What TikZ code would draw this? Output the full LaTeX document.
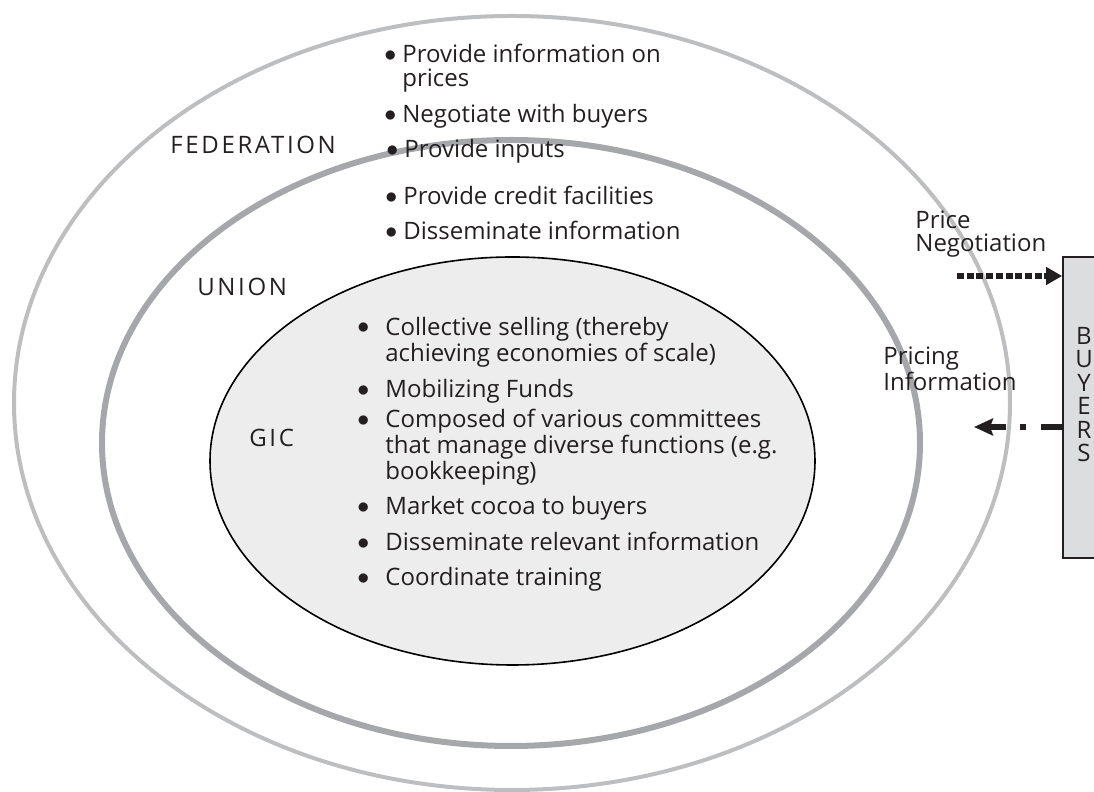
\documentclass[tikz,border=0pt]{standalone}
\usepackage{fontspec}
\setmainfont{Open Sans}
\newfontfamily\tagfont[LetterSpace=11]{Open Sans}
\usepackage{xcolor}
\usepackage{tikz}
\definecolor{fedgrey}{HTML}{BDBEC0}
\definecolor{uniongrey}{HTML}{A6A7AA}
\definecolor{gicfill}{HTML}{EDEDED}
\definecolor{boxfill}{HTML}{DCDDDF}
\definecolor{ink}{HTML}{231F20}
\usetikzlibrary{arrows.meta,positioning}
\newcommand{\blt}[1]{\makebox[#1][l]{\raisebox{0.7pt}{$\bullet$}}}

\begin{document}
\begin{tikzpicture}[x=0.5pt,y=0.5pt,
  fedring/.style={draw=fedgrey,line width=2pt},
  unionring/.style={draw=uniongrey,line width=3pt},
  gicring/.style={draw=black,fill=gicfill,line width=0.8pt},
  tag/.style={font=\tagfont\fontsize{12}{11.75}\selectfont,text=ink,inner sep=0pt,anchor=base west},
  txt/.style={font=\fontsize{12}{11.75}\selectfont,text=ink,inner sep=0pt,anchor=base west,align=left},
  buyersbox/.style={draw=ink,fill=boxfill,line width=0.8pt,minimum width=21pt,
                    minimum height=150.5pt,inner sep=0pt},
  dotarr/.style={-{Triangle[length=8pt,width=8.5pt]},draw=ink,line width=2.6pt,
                 dash pattern=on 3.5pt off 1.35pt},
  dasharr/.style={-{Stealth[length=9.5pt,width=8.5pt,inset=1.5pt]},draw=ink,line width=3pt,
                  dash pattern=on 10.5pt off 7.5pt on 3pt off 7pt}]
\useasboundingbox (0,0) rectangle (1094,792);
% the three rings, outermost first
\draw[fedring] (512,389) ellipse [x radius=498,y radius=387];
\draw[unionring] (511,349) ellipse [x radius=409,y radius=303];
\draw[gicring] (512.5,331) ellipse [x radius=302.5,y radius=204];
\node[tag] (fedlbl) at (170,638) {FEDERATION};
\node[tag] (unionlbl) at (197,496) {UNION};
\node[tag] (giclbl) at (249,345) {GIC};
% federation / union tasks (multi-line nodes sit on their last baseline)
\node[txt] (fed1) at (384,705.5) {\blt{9pt}Provide information on\\\hspace*{9pt}prices};
\node[txt] (fed2) at (384,669) {\blt{9pt}Negotiate with buyers};
\node[txt] (fed3) at (386,634) {\blt{9pt}Provide inputs};
\node[txt] (uni1) at (385,587) {\blt{9pt}Provide credit facilities};
\node[txt] (uni2) at (385,552) {\blt{9pt}Disseminate information};
% GIC tasks
\node[txt] (gic1) at (357,430.5) {\blt{14pt}Collective selling (thereby\\\hspace*{14pt}achieving economies of scale)};
\node[txt] (gic2) at (357,394) {\blt{14pt}Mobilizing Funds};
\node[txt] (gic3) at (357,312) {\blt{14pt}Composed of various committees\\\hspace*{14pt}that manage diverse functions (e.g.\\\hspace*{14pt}bookkeeping)};
\node[txt] (gic4) at (357,277) {\blt{14pt}Market cocoa to buyers};
\node[txt] (gic5) at (357,241) {\blt{14pt}Disseminate relevant information};
\node[txt] (gic6) at (357,206) {\blt{14pt}Coordinate training};
% buyers and the two flows
\node[buyersbox] (buyers) at (1084,384.5) {};
\node[txt,anchor=base,align=center] (buyerslbl) at (1084,330) {B\\U\\Y\\E\\R\\S};
\node[txt] (neglbl) at (915,540) {Price\\Negotiation};
\node[txt] (pricelbl) at (883,401) {Pricing\\Information};
\coordinate (negtail) at (957,516);
\coordinate (pricehead) at (974,365);
\draw[dotarr] (negtail) -- (negtail -| buyers.west);
\draw[dasharr] (buyers.west |- pricehead) -- (pricehead);
\end{tikzpicture}
\end{document}
